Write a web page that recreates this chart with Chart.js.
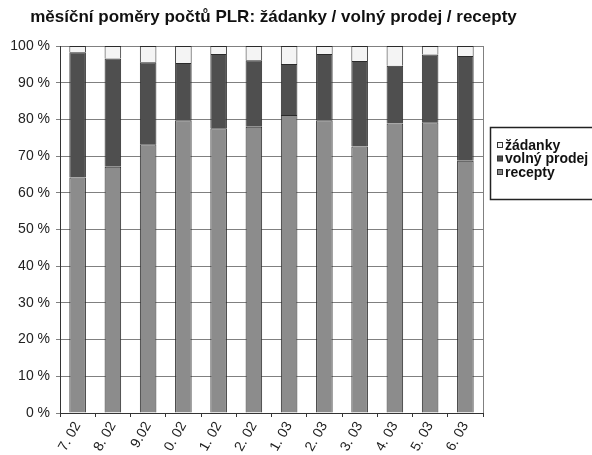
<!DOCTYPE html>
<html>
<head>
<meta charset="utf-8">
<script src="https://cdn.jsdelivr.net/npm/chart.js@4"></script>
<style>
  html, body { margin: 0; padding: 0; background: #fff; }
  #wrap { width: 592px; height: 455px; }
</style>
</head>
<body>
<div id="wrap"><canvas id="chart" width="592" height="455"></canvas></div>
<script>
const title = 'měsíční poměry počtů PLR: žádanky / volný prodej / recepty';
const months = ['7. 02', '8. 02', '9.02', '0. 02', '1. 02', '2. 02', '1. 03', '2. 03', '3. 03', '4. 03', '5. 03', '6. 03'];
const recepty = [64.2, 67.1, 73.2, 79.8, 77.6, 78.0, 81.2, 79.8, 72.6, 78.9, 79.2, 68.7];
const volnyProdej = [34.1, 29.5, 22.4, 15.6, 20.2, 18.1, 13.9, 18.0, 23.3, 15.7, 18.5, 28.6];
const zadanky = [1.7, 3.4, 4.4, 4.6, 2.2, 3.9, 4.9, 2.2, 4.1, 5.4, 2.3, 2.7];
const yTicks = [0, 10, 20, 30, 40, 50, 60, 70, 80, 90, 100];

const FONT = 'Liberation Sans, Arial, sans-serif';

// title, plot frame and boxed legend drawn by hand
const framePlugin = {
  id: 'frame',
  afterDraw(chart) {
    const { ctx, chartArea: a } = chart;
    ctx.save();
    ctx.strokeStyle = '#808080';
    ctx.lineWidth = 1;
    ctx.beginPath();
    ctx.moveTo(Math.round(a.right) + 0.5, a.top);
    ctx.lineTo(Math.round(a.right) + 0.5, a.bottom);
    ctx.stroke();

    ctx.fillStyle = '#111';
    ctx.font = 'bold 17px ' + FONT;
    ctx.textAlign = 'center';
    ctx.textBaseline = 'middle';
    ctx.fillText(title, 273.5, 17);

    // legend, box runs off the right edge as in the original
    ctx.strokeStyle = '#222';
    ctx.lineWidth = 1.5;
    ctx.strokeRect(490.5, 127.5, 200, 72);
    const sets = chart.data.datasets.slice().reverse();
    ctx.font = 'bold 14px ' + FONT;
    ctx.textAlign = 'left';
    sets.forEach((ds, i) => {
      const y = 145 + i * 13.5;
      ctx.fillStyle = ds.backgroundColor;
      ctx.fillRect(497.5, y - 2.5, 5, 5);
      ctx.strokeStyle = '#333';
      ctx.lineWidth = 1;
      ctx.strokeRect(497.5, y - 2.5, 5, 5);
      ctx.fillStyle = '#111';
      ctx.fillText(ds.label, 505, y + 1);
    });
    ctx.restore();
  }
};

const barStyle = { borderColor: '#2a2a2a', borderWidth: 1, borderSkipped: 'start', barPercentage: 0.47, categoryPercentage: 1 };

new Chart(document.getElementById('chart'), {
  type: 'bar',
  data: {
    labels: months,
    datasets: [
      { label: 'recepty', data: recepty, backgroundColor: '#8c8c8c', ...barStyle },
      { label: 'volný prodej', data: volnyProdej, backgroundColor: '#4f4f4f', ...barStyle },
      { label: 'žádanky', data: zadanky, backgroundColor: '#f4f4f4', ...barStyle }
    ]
  },
  plugins: [framePlugin],
  options: {
    responsive: false,
    animation: false,
    devicePixelRatio: 1,
    layout: { padding: { top: 46, right: 109, left: 0, bottom: 0 } },
    plugins: { legend: { display: false }, title: { display: false }, tooltip: { enabled: false } },
    scales: {
      x: {
        stacked: true,
        afterFit: s => { s.height = 42; },
        grid: { offset: true, drawOnChartArea: false, drawTicks: true, tickLength: 4, color: '#333' },
        border: { color: '#333', width: 1 },
        ticks: { color: '#222', font: { family: FONT, size: 14 }, minRotation: 60, maxRotation: 60, padding: 2, autoSkip: false }
      },
      y: {
        stacked: true,
        min: 0,
        max: 100,
        afterFit: s => { s.width = 60; },
        afterBuildTicks: s => { s.ticks = yTicks.map(v => ({ value: v })); },
        grid: { color: '#808080', lineWidth: 1, tickLength: 4 },
        border: { color: '#333', width: 1 },
        ticks: { color: '#222', font: { family: FONT, size: 14 }, padding: 6, callback: v => v + ' %' }
      }
    }
  }
});
</script>
</body>
</html>
